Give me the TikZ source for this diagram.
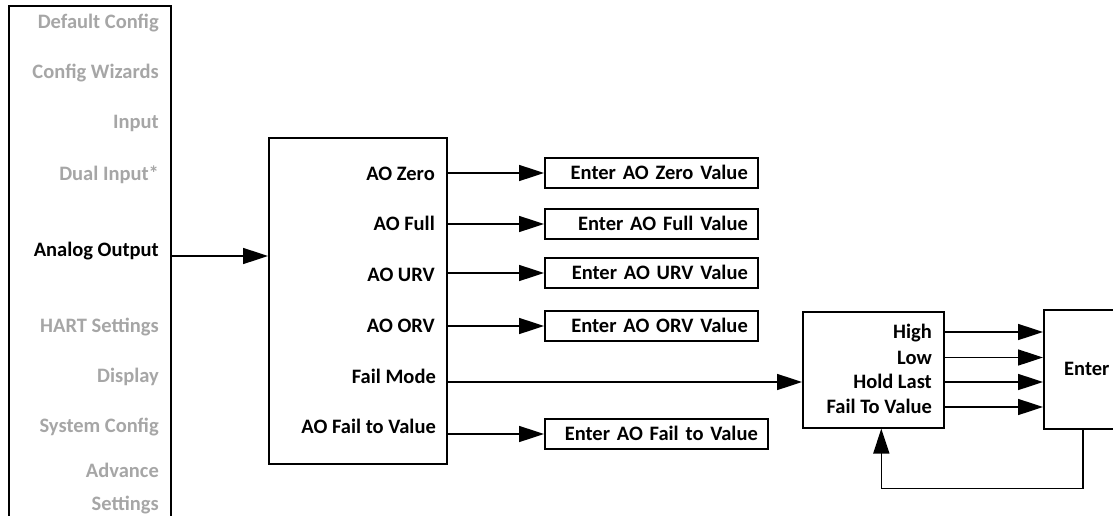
\documentclass[tikz,border=0pt]{standalone}
\usepackage{fontspec}
\setmainfont{Carlito}
\usetikzlibrary{arrows.meta,positioning}
\definecolor{menugray}{RGB}{166,166,166}

\begin{document}
\begin{tikzpicture}[
    x=1pt, y=-1pt,
    >={Triangle[length=25pt,width=16pt]},
    every node/.style={font=\fontsize{20.5}{24}\selectfont\bfseries},
    panel/.style={
        draw, line width=1.6pt, inner sep=0pt
    },
    item/.style={
        inner sep=0pt, text height=13.3pt, text depth=0pt,
        anchor=east
    },
    dim/.style={item, text=menugray},
    valbox/.style={
        draw, line width=1.6pt, inner xsep=10pt, inner ysep=0pt,
        minimum height=30pt, text height=13.3pt, text depth=0pt,
        text width=193pt, align=right, anchor=west
    },
    arr/.style={->, line width=1.6pt}
]
    \useasboundingbox (0,0) rectangle (1113,516);
    \clip (0,0) rectangle (1113,516);

    % Menu column
    \node[panel, anchor=north west, minimum width=162pt, minimum height=560pt] (menu) at (8,5) {};
    \node[dim]  (default) at (159,22)  {Default Config};
    \node[dim]  (wizard)  at (159,72)  {Config Wizards};
    \node[dim]  (input)   at (159,122) {Input};
    \node[dim]  (dual)    at (159,174) {Dual Input*};
    \node[item] (analog)  at (159,250) {Analog Output};
    \node[dim]  (hart)    at (159,326) {HART Settings};
    \node[dim]  (display) at (159,376) {Display};
    \node[dim]  (system)  at (159,426) {System Config};
    \node[dim, anchor=north east, align=right,
          font=\fontsize{20.5}{33}\selectfont\bfseries] (advance) at (159,497.3) {Advance\\Settings};

    % Analog output panel
    \node[panel, anchor=north west, minimum width=178pt, minimum height=326pt] (AO) at (268,137) {};
    \node[item] (zero)   at (435,173.5) {AO Zero};
    \node[item] (full)   at (435,224)   {AO Full};
    \node[item] (urv)    at (435,275)   {AO URV};
    \node[item] (orv)    at (435,326)   {AO ORV};
    \node[item] (mode)   at (436,377)   {Fail Mode};
    \node[item] (failto) at (436,427)   {AO Fail to Value};

    % Value entry boxes
    \node[valbox] (vZero) at (544,173) {Enter AO Zero Value};
    \node[valbox] (vFull) at (544,224) {Enter AO Full Value};
    \node[valbox] (vURV)  at (544,273) {Enter AO URV Value};
    \node[valbox] (vORV)  at (544,326) {Enter AO ORV Value};
    \node[valbox, text width=203pt] (vFail) at (544,434) {Enter AO Fail to Value};

    % Fail mode choices
    \node[panel, anchor=north west, minimum width=141pt, minimum height=116pt] (fail) at (802,311) {};
    \node[item] (high) at (932,332)   {High};
    \node[item] (low)  at (932,357.5) {Low};
    \node[item] (hold) at (932,382)   {Hold Last};
    \node[item] (ftv)  at (932,407)   {Fail To Value};

    \node[panel, anchor=north west, minimum width=86pt, minimum height=119pt,
          text height=13.3pt, text depth=0pt] (enter) at (1043,309) {Enter};

    % Edges
    \coordinate (aoIn) at ([yshift=-6pt]analog.east);
    \draw[arr] (menu.east |- aoIn) -- (AO.west |- aoIn);
    \draw[arr] (AO.east |- vZero) -- (vZero.west);
    \draw[arr] (AO.east |- vFull) -- (vFull.west);
    \draw[arr] (AO.east |- vURV)  -- (vURV.west);
    \draw[arr] (AO.east |- vORV)  -- (vORV.west);
    \draw[arr] (AO.east |- hold)  -- (fail.west |- hold);
    \draw[arr] (AO.east |- vFail) -- (vFail.west);
    \draw[arr] (fail.east |- high) -- (enter.west |- high);
    \draw[arr] (fail.east |- low)  -- (enter.west |- low);
    \draw[arr] (fail.east |- hold) -- (enter.west |- hold);
    \draw[arr] (fail.east |- ftv)  -- (enter.west |- ftv);
    \draw[arr] ([xshift=-4pt]enter.south) -- ++(0,59) -| ([xshift=8pt]fail.south);

\end{tikzpicture}
\end{document}
